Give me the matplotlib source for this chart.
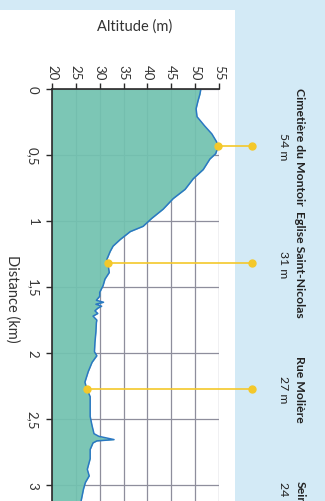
import numpy as np
import matplotlib
matplotlib.use("Agg")
import matplotlib.pyplot as plt
from matplotlib.patches import Rectangle
from matplotlib.transforms import blended_transform_factory

# ---- data ----
distance_km = [0.00, 0.04, 0.09, 0.15, 0.21, 0.28, 0.34, 0.40, 0.44, 0.49,
               0.53, 0.61, 0.68, 0.76, 0.83, 0.91, 0.98, 1.04, 1.08, 1.14,
               1.19, 1.23, 1.29, 1.34, 1.39, 1.44, 1.49, 1.54, 1.57, 1.60,
               1.615, 1.63, 1.645, 1.66, 1.68, 1.70, 1.72, 1.75, 1.77, 1.84,
               1.92, 1.99, 2.02, 2.07, 2.14, 2.22, 2.27, 2.33, 2.40, 2.48,
               2.55, 2.61, 2.63, 2.655, 2.665, 2.68, 2.73, 2.80, 2.88, 2.93,
               2.98, 3.03, 3.12]
altitude_m = [51.2, 51.0, 50.6, 50.2, 50.4, 52.0, 53.5, 54.5, 54.8, 54.3,
              53.1, 51.7, 49.6, 47.9, 45.4, 43.3, 40.9, 39.1, 36.4, 34.3,
              32.8, 32.2, 31.5, 31.8, 32.0, 31.1, 30.7, 30.0, 30.0, 29.3,
              30.8, 29.2, 30.4, 29.6, 29.0, 29.6, 28.6, 29.4, 29.3, 29.2,
              29.0, 28.9, 29.4, 28.4, 27.6, 26.9, 27.3, 28.0, 28.0, 28.0,
              28.4, 28.8, 29.8, 33.0, 29.4, 28.6, 28.0, 28.0, 27.4, 27.8,
              27.0, 26.6, 26.1]

poi_names = ["Cimetière du Montoir", "Eglise Saint-Nicolas", "Rue Molière", "Seine"]
poi_labels = ["54 m", "31 m", "27 m", "24 m"]
poi_distance = [0.43, 1.32, 2.27, 3.07]
poi_marker = [True, True, True, False]

alt_ticks = [20, 25, 30, 35, 40, 45, 50, 55]
dist_ticks = [0, 0.5, 1, 1.5, 2, 2.5, 3]
dist_ticklabels = ["0", "0,5", "1", "1,5", "2", "2,5", "3"]

# ---- figure ----
plt.rcParams["font.family"] = ["Lato", "DejaVu Sans"]

W, H = 325, 502
fig = plt.figure(figsize=(W / 100, H / 100), dpi=100)
fig.patch.set_facecolor("#d3eaf6")
bg = Rectangle((0, 0), 235 / W, 1 - 11 / H, transform=fig.transFigure,
               facecolor="white", edgecolor="none", zorder=-10)
fig.add_artist(bg)

ax = fig.add_axes([52 / W, 0, 167 / W, 412 / H])
ax.set_zorder(1)
ax.set_facecolor("white")
ax.set_xlim(20, 55)
ax.set_ylim(3.12, 0)

ax.fill_betweenx(distance_km, 20, altitude_m, color="#72c2b0", alpha=0.93, zorder=2, lw=0)
ax.plot(altitude_m, distance_km, color="#2a78c2", lw=1.1, zorder=3)

ax.set_xticks(alt_ticks)
ax.set_yticks(dist_ticks)
ax.set_yticklabels(dist_ticklabels)
ax.xaxis.tick_top()
ax.grid(True, color="#8e8e9c", lw=0.9, zorder=1)
ax.set_axisbelow(True)
for s in ["right", "bottom"]:
    ax.spines[s].set_visible(False)
for s in ["left", "top"]:
    ax.spines[s].set_color("#2a2a2a")
    ax.spines[s].set_linewidth(1.2)
    ax.spines[s].set_zorder(4)

ax.tick_params(axis="x", top=True, bottom=False, direction="out", length=4, width=1,
               labelsize=9.5, pad=3, labelrotation=-90, colors="#2a2a2a", labelcolor="#333333")
ax.tick_params(axis="y", direction="out", length=4, width=1, labelsize=9.5, pad=10,
               labelrotation=-90, colors="#2a2a2a", labelcolor="#333333")
for lbl in ax.get_yticklabels():
    lbl.set_ha("center")
    lbl.set_va("center")

ax.set_ylabel("Distance (km)", rotation=-90, fontsize=10.5, color="#333333",
              ha="center", va="center")
ax.yaxis.set_label_coords((12 - 52) / 167, (502 - 299) / 412)

ax.text((135 - 52) / 167, (502 - 27) / 412, "Altitude (m)", transform=ax.transAxes,
        ha="center", va="center", fontsize=10.5, color="#333333")

trans = blended_transform_factory(ax.transAxes, ax.transData)
x0, x1 = ax.get_xlim()
end_alt = x0 + (252 - 52) / 167 * (x1 - x0)
for name, lab, d, mk in zip(poi_names, poi_labels, poi_distance, poi_marker):
    if mk:
        a = np.interp(d, distance_km, altitude_m)
        ax.plot([a, end_alt], [d, d], color="#f4c82a", lw=1.2, marker="o", ms=5,
                clip_on=False, zorder=5)
    ax.text((300 - 52) / 167, d, name, transform=trans, rotation=-90, ha="center",
            va="center", fontsize=8.8, fontweight="bold", color="#222222", clip_on=False)
    ax.text((283 - 52) / 167, d, lab, transform=trans, rotation=-90, ha="center",
            va="center", fontsize=8.8, color="#222222", clip_on=False)

fig.savefig("out.png", dpi=100, facecolor=fig.get_facecolor())
